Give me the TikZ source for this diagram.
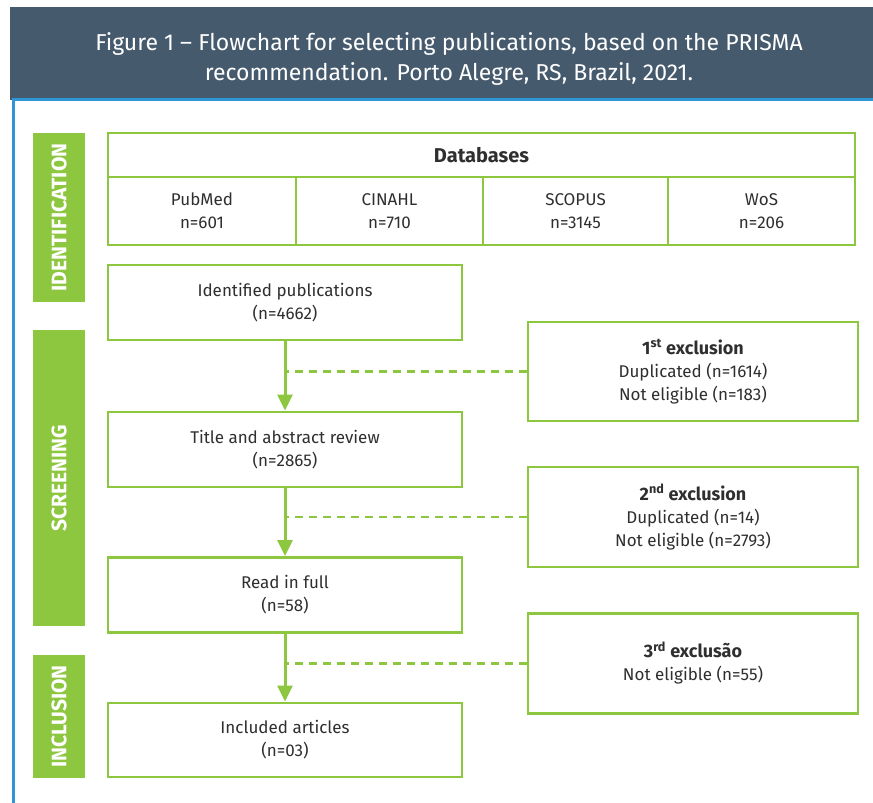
\documentclass[tikz,border=0pt]{standalone}
\usepackage{fontspec}
\setmainfont{Fira Sans}
\usetikzlibrary{arrows.meta}
\definecolor{pgreen}{HTML}{8DC63F}
\definecolor{phead}{HTML}{465A6E}
\definecolor{pblue}{HTML}{2E96D6}
\definecolor{ptext}{HTML}{2F2F2F}
\begin{document}
\begin{tikzpicture}[x=1pt,y=-1pt,
  box/.style={draw=pgreen, line width=2.8pt, fill=white, inner sep=0pt, align=center,
    text=ptext, font=\fontsize{17}{23}\selectfont},
  bar/.style={fill=pgreen, rotate=90, inner sep=0pt, text=white,
    font=\fontsize{21}{22}\selectfont\bfseries, minimum height=52pt},
  arr/.style={draw=pgreen, line width=3pt, -{Triangle[length=16pt,width=15pt]}},
  dsh/.style={draw=pgreen, line width=2.5pt, dash pattern=on 8pt off 6pt}]
\useasboundingbox (0,0) rectangle (873,803);
% header
\fill[phead] (10,7) rectangle (873,100);
\node[text=white, align=center, font=\fontsize{23}{30}\selectfont] (title) at (449,59)
  {Figure 1 -- Flowchart for selecting publications, based on the PRISMA\\recommendation. Porto Alegre, RS, Brazil, 2021.};
\draw[pblue, line width=3pt] (873,99.5) -- (13.5,99.5) -- (13.5,803);
% stage bars
\node[bar, minimum width=169pt] (bid) at (59,217.5) {IDENTIFICATION};
\node[bar, minimum width=296pt] (bsc) at (59,478) {SCREENING};
\node[bar, minimum width=123pt] (bin) at (59,716.5) {INCLUSION};
% databases
\node[box, minimum width=747pt, minimum height=112pt] (db) at (481.5,189) {};
\node[box, minimum width=747pt, minimum height=44pt, font=\fontsize{20}{22}\selectfont\bfseries] (dbt) at (481.5,155) {Databases};
\node[box, minimum width=188pt, minimum height=68pt] (pm) at (202,211) {PubMed\\n=601};
\node[box, minimum width=187pt, minimum height=68pt] (ci) at (389.5,211) {CINAHL\\n=710};
\node[box, minimum width=185pt, minimum height=68pt] (sc) at (575.5,211) {SCOPUS\\n=3145};
\node[box, minimum width=187pt, minimum height=68pt] (wo) at (761.5,211) {WoS\\n=206};
% main flow
\node[box, minimum width=354pt, minimum height=75pt] (idp) at (285,302.5) {Identified publications\\(n=4662)};
\node[box, minimum width=354pt, minimum height=75pt] (tar) at (285,449.5) {Title and abstract review\\(n=2865)};
\node[box, minimum width=354pt, minimum height=75pt] (rif) at (285,595) {Read in full\\(n=58)};
\node[box, minimum width=354pt, minimum height=74pt] (inc) at (285,740) {Included articles\\(n=03)};
% exclusions
\node[box, minimum width=330pt, minimum height=99pt] (ex1) at (693,371.5) {{\fontsize{18}{23}\selectfont\bfseries 1\textsuperscript{st} exclusion}\\Duplicated (n=1614)\\Not eligible (n=183)};
\node[box, minimum width=330pt, minimum height=100pt] (ex2) at (693,517) {{\fontsize{18}{23}\selectfont\bfseries 2\textsuperscript{nd} exclusion}\\Duplicated (n=14)\\Not eligible (n=2793)};
\node[box, minimum width=330pt, minimum height=100pt, anchor=north] (ex3) at (693,612) {\rule{0pt}{1pt}};
\node[align=center, text=ptext, font=\fontsize{17}{23}\selectfont] (ex3t) at (693,663) {{\fontsize{18}{23}\selectfont\bfseries 3\textsuperscript{rd} exclusão}\\Not eligible (n=55)};
% arrows
\draw[arr] (idp.south) -- (tar.north);
\draw[arr] (tar.south) -- (rif.north);
\draw[arr] (rif.south) -- (inc.north);
\draw[dsh] (ex1.west) -- (ex1.west -| idp.south);
\draw[dsh] (ex2.west) -- (ex2.west -| tar.south);
\draw[dsh] (ex3.west) -- (ex3.west -| rif.south);
\end{tikzpicture}
\end{document}
